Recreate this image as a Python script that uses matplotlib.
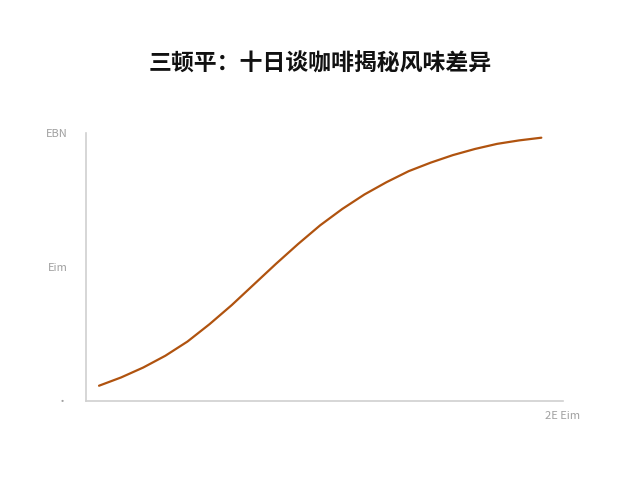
import matplotlib
matplotlib.use("Agg")
import matplotlib.pyplot as plt

plt.rcParams['font.family'] = ['Noto Sans CJK SC', 'DejaVu Sans']

# curve, every half day from day 0 to day 10
days = [0, 0.5, 1, 1.5, 2, 2.5, 3, 3.5, 4, 4.5, 5,
        5.5, 6, 6.5, 7, 7.5, 8, 8.5, 9, 9.5, 10]
flavor = [5.7, 8.8, 12.5, 16.9, 22.2, 28.7, 35.8, 43.5, 51.2, 58.6, 65.6,
          71.7, 77.1, 81.7, 85.8, 89.0, 91.8, 94.1, 96.0, 97.3, 98.3]

y_ticks = [0, 50, 100]
y_tick_labels = ['·', 'Eim', 'EBN']
x_ticks = [10.48]
x_tick_labels = ['2E Eim']

fig = plt.figure(figsize=(6.4, 4.8), dpi=100)
ax = fig.add_axes([0.134, 0.1646, 0.745, 0.558])

ax.plot(days, flavor, color='#B0530F', linewidth=1.6,
        solid_capstyle='round', solid_joinstyle='round')

ax.set_xlim(-0.3, 10.48)
ax.set_ylim(0, 100)

ax.set_yticks(y_ticks)
ax.set_yticklabels(y_tick_labels)
ax.set_xticks(x_ticks)
ax.set_xticklabels(x_tick_labels)
ax.tick_params(length=0, labelsize=8, labelcolor='#a0a0a0')
ax.tick_params(axis='y', pad=13)
ax.tick_params(axis='x', pad=7)

for side in ['top', 'right']:
    ax.spines[side].set_visible(False)
for side in ['left', 'bottom']:
    ax.spines[side].set_color('#d0d0d0')
    ax.spines[side].set_linewidth(1.2)

fig.text(0.5, 0.866, '三顿平：十日谈咖啡揭秘风味差异', ha='center', va='center',
         fontsize=16.5, fontweight='bold', color='#111111')

fig.savefig('out.png', dpi=100, facecolor='white')
